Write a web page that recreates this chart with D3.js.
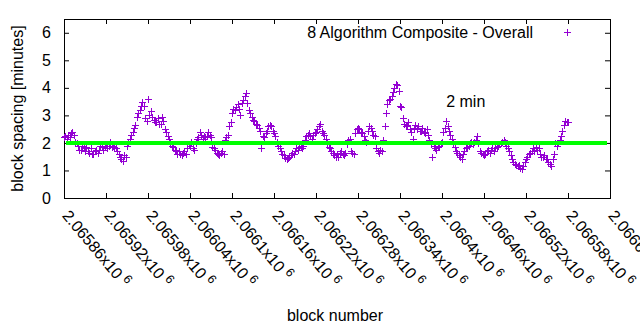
<!DOCTYPE html>
<html>
<head>
<meta charset="utf-8">
<script src="https://cdn.jsdelivr.net/npm/d3@7/dist/d3.min.js"></script>
<style>
  body { margin: 0; background: #fff; }
  svg { display: block; font-family: "Liberation Sans", Arial, sans-serif; }
</style>
</head>
<body>
<div id="chart"></div>
<script>
// First block of the window and the step between samples
const firstBlock = 2065860;
const blockStep = 2;

// Average block spacing in minutes, one value per sample
const spacing = [
    2.2, 2.25, 2.15, 2.3, 2.2, 2.35, 2.4, 2.3, 2.05, 2.0, 1.9, 1.75,
    1.75, 1.9, 1.8, 1.7, 1.85, 1.7, 1.65, 1.8, 1.6, 1.6, 1.7, 1.75,
    1.65, 1.75, 1.9, 1.85, 1.75, 1.9, 1.95, 1.8, 1.9, 2.05, 1.85, 1.9,
    1.85, 1.8, 1.7, 1.6, 1.5, 1.4, 1.35, 1.55, 1.5, 1.9, 2.0, 2.15,
    2.3, 2.4, 2.55, 2.65, 2.95, 3.1, 3.2, 3.35, 3.5, 3.35, 2.9, 2.8,
    3.6, 3.0, 3.15, 2.95, 2.85, 2.75, 2.75, 2.9, 2.7, 2.7, 2.95, 2.8,
    2.5, 2.4, 2.25, 2.15, 2.05, 1.9, 1.85, 1.75, 1.7, 1.6, 1.7, 1.6,
    1.55, 1.65, 1.7, 1.6, 1.8, 1.95, 1.9, 2.05, 1.8, 1.75, 2.0, 2.15,
    2.2, 2.4, 2.3, 2.15, 2.25, 2.2, 2.25, 2.4, 2.3, 2.2, 1.85, 1.8,
    1.75, 1.65, 1.6, 1.55, 1.65, 1.7, 1.6, 2.1, 2.2, 2.3, 2.6, 2.75,
    3.1, 3.25, 3.2, 3.3, 3.4, 3.25, 3.0, 3.45, 3.55, 3.7, 3.8, 3.45,
    3.2, 3.1, 2.95, 2.85, 2.8, 2.7, 2.65, 2.55, 2.45, 1.8, 2.25, 2.2,
    2.35, 2.45, 2.6, 2.65, 2.6, 2.45, 2.35, 2.25, 2.05, 1.9, 1.8, 1.7,
    1.6, 1.55, 1.45, 1.4, 1.45, 1.5, 1.55, 1.65, 1.6, 1.7, 1.8, 1.75,
    1.85, 1.9, 1.8, 1.9, 2.1, 2.25, 2.3, 2.35, 2.25, 2.15, 2.3, 2.35,
    2.4, 2.5, 2.6, 2.7, 2.45, 2.35, 2.3, 2.15, 2.0, 1.85, 1.8, 1.7,
    1.65, 1.55, 1.5, 1.6, 1.5, 1.65, 1.7, 1.6, 1.55, 1.65, 1.95, 2.1,
    2.15, 1.7, 1.65, 1.6, 2.35, 2.5, 2.55, 2.5, 2.4, 2.35, 2.25, 2.1,
    2.05, 2.45, 2.6, 2.55, 2.45, 2.3, 2.25, 1.8, 1.7, 1.65, 1.75, 1.7,
    2.1, 2.6, 3.1, 3.4, 3.55, 3.6, 3.7, 3.85, 4.0, 4.15, 4.1, 3.9,
    3.35, 3.3, 2.9, 2.7, 2.6, 2.65, 2.75, 2.5, 2.4, 2.15, 2.55, 2.65,
    2.5, 2.6, 2.45, 2.45, 2.55, 2.4, 2.35, 2.5, 2.3, 2.1, 1.95, 1.5,
    1.9, 1.8, 1.75, 1.85, 1.9, 2.0, 2.05, 2.4, 2.55, 2.8, 2.6, 2.45,
    2.3, 2.15, 2.0, 1.85, 1.7, 1.65, 1.55, 1.5, 1.4, 1.6, 1.7, 1.8,
    1.85, 1.9, 2.0, 2.05, 1.95, 2.05, 2.1, 2.25, 2.0, 1.7, 1.65, 1.6,
    1.55, 1.6, 1.7, 1.75, 1.65, 1.75, 1.8, 1.7, 1.8, 1.85, 1.9, 1.95,
    2.0, 2.05, 2.1, 2.05, 1.9, 1.8, 1.7, 1.55, 1.4, 1.3, 1.25, 1.2,
    1.15, 1.2, 1.1, 1.05, 1.15, 1.3, 1.4, 1.5, 1.6, 1.65, 1.7, 1.8,
    1.7, 1.85, 1.75, 1.8, 1.6, 1.5, 1.5, 1.55, 1.4, 1.4, 1.3, 1.25,
    1.15, 1.4, 1.6, 2.0, 1.9, 2.0, 2.1, 2.25, 2.45, 2.65, 2.8, 2.75,
    2.75
];

// Target spacing line and its label
const targetMinutes = 2;
const targetLabel = '2 min';
const targetLabelAt = [2066406, 3.5];

// Axis ranges and ticks
const xDomain = [2065860, 2066640];
const yDomain = [0, 6.5];
const xTicks = [2065860, 2065920, 2065980, 2066040, 2066100, 2066160, 2066220,
                2066280, 2066340, 2066400, 2066460, 2066520, 2066580, 2066640];
const yTicks = [0, 1, 2, 3, 4, 5, 6];

const seriesName = '8 Algorithm Composite - Overall';
const xTitle = 'block number';
const yTitle = 'block spacing [minutes]';

const violet = '#9400d3';
const green = '#00ff00';

// Plus-shaped point marker
const plus = 'M-3.5,0H3.5M0,-3.5V3.5';

function drawChart() {
    const width = 640, height = 330;
    const margin = { top: 19, right: 30, bottom: 132, left: 64 };

    const svg = d3.select('#chart').append('svg')
        .attr('width', width)
        .attr('height', height);

    const x = d3.scaleLinear()
        .domain(xDomain)
        .range([margin.left, width - margin.right]);

    const y = d3.scaleLinear()
        .domain(yDomain)
        .range([height - margin.bottom, margin.top]);

    const points = spacing.map((v, i) => ({ block: firstBlock + i * blockStep, minutes: v }));

    // Axes with inward ticks on all four sides
    const left = svg.append('g')
        .attr('transform', 'translate(' + margin.left + ',0)')
        .call(d3.axisLeft(y).tickValues(yTicks).tickSize(-5).tickPadding(13).tickFormat(d3.format('d')));

    svg.append('g')
        .attr('transform', 'translate(' + (width - margin.right) + ',0)')
        .call(d3.axisRight(y).tickValues(yTicks).tickSize(-5).tickFormat(''));

    svg.append('g')
        .attr('transform', 'translate(0,' + margin.top + ')')
        .call(d3.axisTop(x).tickValues(xTicks).tickSize(-5).tickFormat(''));

    const bottom = svg.append('g')
        .attr('transform', 'translate(0,' + (height - margin.bottom) + ')')
        .call(d3.axisBottom(x).tickValues(xTicks).tickSize(-5).tickFormat(''));

    svg.selectAll('.domain').remove();
    svg.selectAll('.tick line').attr('stroke', '#000');

    left.selectAll('text')
        .attr('font-size', 16)
        .attr('fill', '#000');

    // Rotated block number labels, mantissa x10^6
    bottom.selectAll('.tick').append('text')
        .attr('font-size', 16)
        .attr('fill', '#000')
        .attr('text-anchor', 'start')
        .attr('transform', 'translate(-3,18) rotate(50)')
        .each(function(d) {
            const t = d3.select(this);
            t.append('tspan').text(String(+(d / 1e6).toPrecision(6)) + 'x10');
            t.append('tspan')
                .attr('font-size', 12.5)
                .attr('dx', 4)
                .attr('dy', -6)
                .text('6');
        });

    // Plot border
    svg.append('rect')
        .attr('x', margin.left + 0.5)
        .attr('y', margin.top + 0.5)
        .attr('width', width - margin.left - margin.right)
        .attr('height', height - margin.top - margin.bottom)
        .attr('fill', 'none')
        .attr('stroke', '#000');

    // Data points
    svg.append('g')
        .selectAll('path')
        .data(points)
        .enter()
        .append('path')
        .attr('d', plus)
        .attr('transform', d => 'translate(' + (Math.round(x(d.block)) + 0.5) + ',' + (Math.round(y(d.minutes)) + 0.5) + ')')
        .attr('fill', 'none')
        .attr('stroke', violet)
        .attr('stroke-width', 1)
        .attr('shape-rendering', 'crispEdges');

    // Target line at 2 minutes
    svg.append('line')
        .attr('x1', x(xDomain[0]) + 2)
        .attr('x2', x(xDomain[1]) - 3)
        .attr('y1', y(targetMinutes))
        .attr('y2', y(targetMinutes))
        .attr('stroke', green)
        .attr('stroke-width', 4);

    svg.append('text')
        .attr('x', x(targetLabelAt[0]))
        .attr('y', y(targetLabelAt[1]))
        .attr('dy', '0.35em')
        .attr('font-size', 16)
        .text(targetLabel);

    // Key in the top right corner
    svg.append('text')
        .attr('x', 533)
        .attr('y', 32)
        .attr('dy', '0.35em')
        .attr('text-anchor', 'end')
        .attr('font-size', 16)
        .text(seriesName);

    svg.append('path')
        .attr('d', plus)
        .attr('transform', 'translate(567.5,32.5)')
        .attr('fill', 'none')
        .attr('stroke', violet)
        .attr('shape-rendering', 'crispEdges');

    // Axis titles
    svg.append('text')
        .attr('x', 335)
        .attr('y', 321)
        .attr('text-anchor', 'middle')
        .attr('font-size', 16)
        .text(xTitle);

    svg.append('text')
        .attr('transform', 'translate(23,' + ((margin.top + height - margin.bottom) / 2) + ') rotate(-90)')
        .attr('text-anchor', 'middle')
        .attr('font-size', 16)
        .text(yTitle);
}

drawChart();
</script>
</body>
</html>
